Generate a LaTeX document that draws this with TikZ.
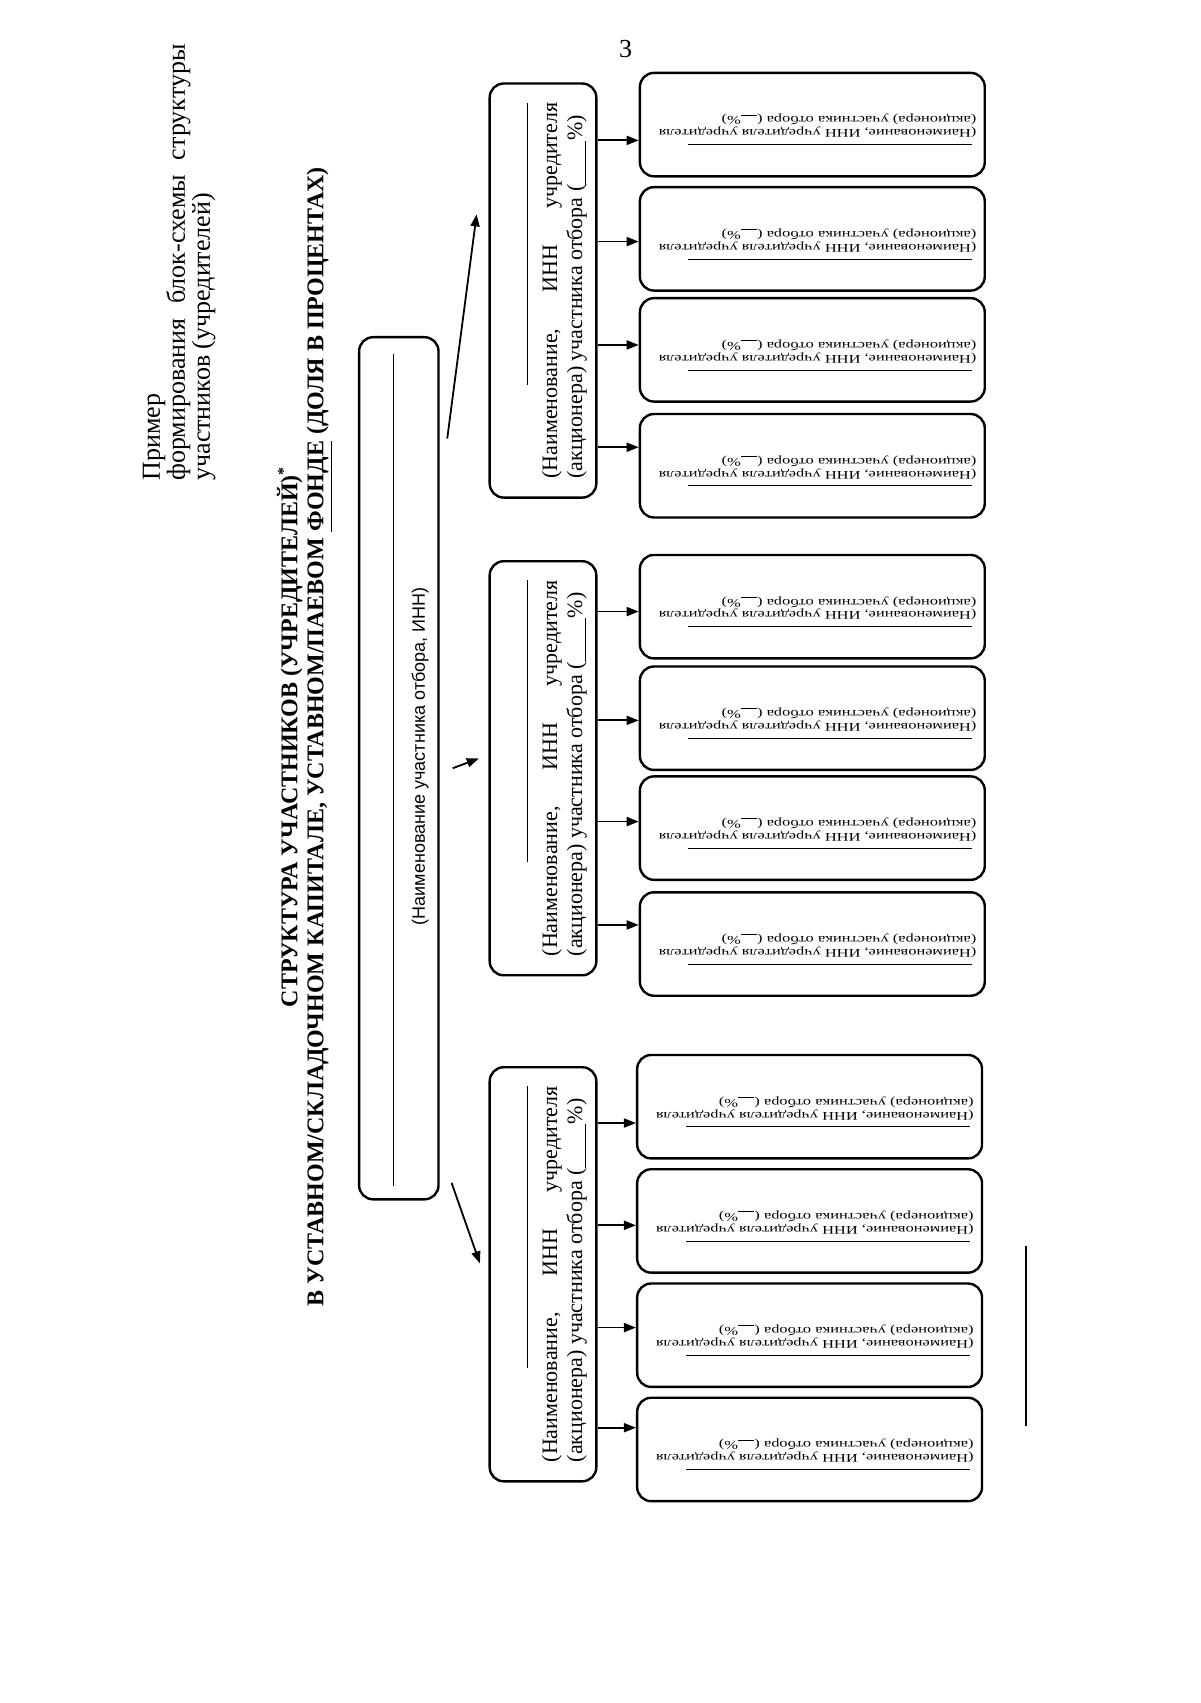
\documentclass[tikz,border=0pt]{standalone}
\usepackage{fontspec}
\setmainfont{Liberation Serif}
\newfontfamily\sansnarrow{Liberation Sans}
\usepackage{graphicx}
\usetikzlibrary{arrows.meta}

\newcommand{\leaftext}{\rotatebox{180}{\scalebox{1}[0.72]{\parbox{164pt}{\fontsize{8.2}{9}\selectfont\raggedright
 \hspace*{2pt}\rule{142pt}{0.6pt}\par\vspace{1pt}
 (Наименование, ИНН учредителя учредителя\\
 (акционера) участника отбора (\underline{\hspace{1em}}\%)\par\vspace*{7pt}}}}}
\newcommand{\midtext}{\rotatebox{90}{\parbox{188pt}{\vspace*{14pt}\fontsize{11}{12.5}\selectfont
 \hfill\rule{141pt}{0.5pt}\par\vspace{2pt}
 (Наименование,\hfill ИНН\hfill учредителя\\
 (акционера) участника отбора (\underline{\hspace{2em}}\%)}}}

\begin{document}
\begin{tikzpicture}[x=0.544pt,y=-0.544pt,
  rootbox/.style={draw,line width=1.2pt,rounded corners=7pt,minimum width=39.7pt,minimum height=431pt,inner sep=0pt},
  midbox/.style={draw,line width=1.2pt,rounded corners=7pt,minimum width=53.3pt,minimum height=207pt,inner sep=0pt},
  leafbox/.style={draw,line width=1.2pt,rounded corners=7pt,minimum width=172.4pt,minimum height=51.7pt,inner sep=0pt},
  arr/.style={-{Triangle[length=6pt,width=4.5pt]},line width=0.9pt}]
   \useasboundingbox (0,0) rectangle (1103,1565);

   % heading
   \node[rotate=90,anchor=north west,inner sep=0pt] (header) at (131,442)
   {\parbox{218pt}{\fontsize{13}{12.5}\selectfont Пример\\
   формирования\hfill блок-схемы\hfill структуры\\
   участников (учредителей)}};
   \node (pagenum) at (575,45) {\fontsize{13}{15}\selectfont 3};
   \node[rotate=90,align=center,font=\bfseries\fontsize{12}{13}\selectfont] (title) at (280,677)
   {СТРУКТУРА УЧАСТНИКОВ (УЧРЕДИТЕЛЕЙ)\textsuperscript{*}\\
   В УСТАВНОМ/СКЛАДОЧНОМ КАПИТАЛЕ, УСТАВНОМ/ПАЕВОМ \underline{ФОНДЕ} (ДОЛЯ В ПРОЦЕНТАХ)};

   % root
   \node[rootbox] (root) at (366.5,706) {};
   \draw[line width=0.5pt] (362,325) -- (362,1090);
   \node[rotate=90] (rootlbl) at (386,695)
   {\sansnarrow\fontsize{9}{10}\selectfont (Наименование участника отбора, ИНН)};

   % second level
   \node[midbox] (m1) at (499,267) {\midtext};
   \node[midbox] (m2) at (499,706) {\midtext};
   \node[midbox] (m3) at (499,1171) {\midtext};

   \coordinate (r1) at (411,403); \coordinate (m1in) at (438,197);
   \coordinate (r2) at (416,706); \coordinate (m2in) at (440,697);
   \coordinate (r3) at (415,1087); \coordinate (m3in) at (441,1161);
   \draw[arr] (r1) -- (m1in);
   \draw[arr] (r2) -- (m2in);
   \draw[arr] (r3) -- (m3in);

   % founders of the founders
   \node[leafbox] (l11) at (746.5,114.5) {\leaftext};
   \node[leafbox] (l12) at (746.5,219.5) {\leaftext};
   \node[leafbox] (l13) at (746.5,321.5) {\leaftext};
   \node[leafbox] (l14) at (746.5,428) {\leaftext};
   \node[leafbox] (l21) at (746.5,557.5) {\leaftext};
   \node[leafbox] (l22) at (746.5,660) {\leaftext};
   \node[leafbox] (l23) at (746.5,761) {\leaftext};
   \node[leafbox] (l24) at (746.5,867.5) {\leaftext};
   \node[leafbox] (l31) at (744,1017) {\leaftext};
   \node[leafbox] (l32) at (744,1122) {\leaftext};
   \node[leafbox] (l33) at (744,1227) {\leaftext};
   \node[leafbox] (l34) at (744,1332) {\leaftext};

   \draw[arr] (m1.east |- 0,129) -- (l11.west |- 0,129);
   \draw[arr] (m1.east |- 0,222) -- (l12.west |- 0,222);
   \draw[arr] (m1.east |- 0,317) -- (l13.west |- 0,317);
   \draw[arr] (m1.east |- 0,411) -- (l14.west |- 0,411);
   \draw[arr] (m2.east |- 0,562) -- (l21.west |- 0,562);
   \draw[arr] (m2.east |- 0,662) -- (l22.west |- 0,662);
   \draw[arr] (m2.east |- 0,755) -- (l23.west |- 0,755);
   \draw[arr] (m2.east |- 0,850) -- (l24.west |- 0,850);
   \draw[arr] (m3.east |- 0,1032) -- (l31.west |- 0,1032);
   \draw[arr] (m3.east |- 0,1126) -- (l32.west |- 0,1126);
   \draw[arr] (m3.east |- 0,1220) -- (l33.west |- 0,1220);
   \draw[arr] (m3.east |- 0,1312) -- (l34.west |- 0,1312);

   % footnote rule
   \draw[line width=1pt] (943,1145) -- (943,1310);
\end{tikzpicture}
\end{document}
